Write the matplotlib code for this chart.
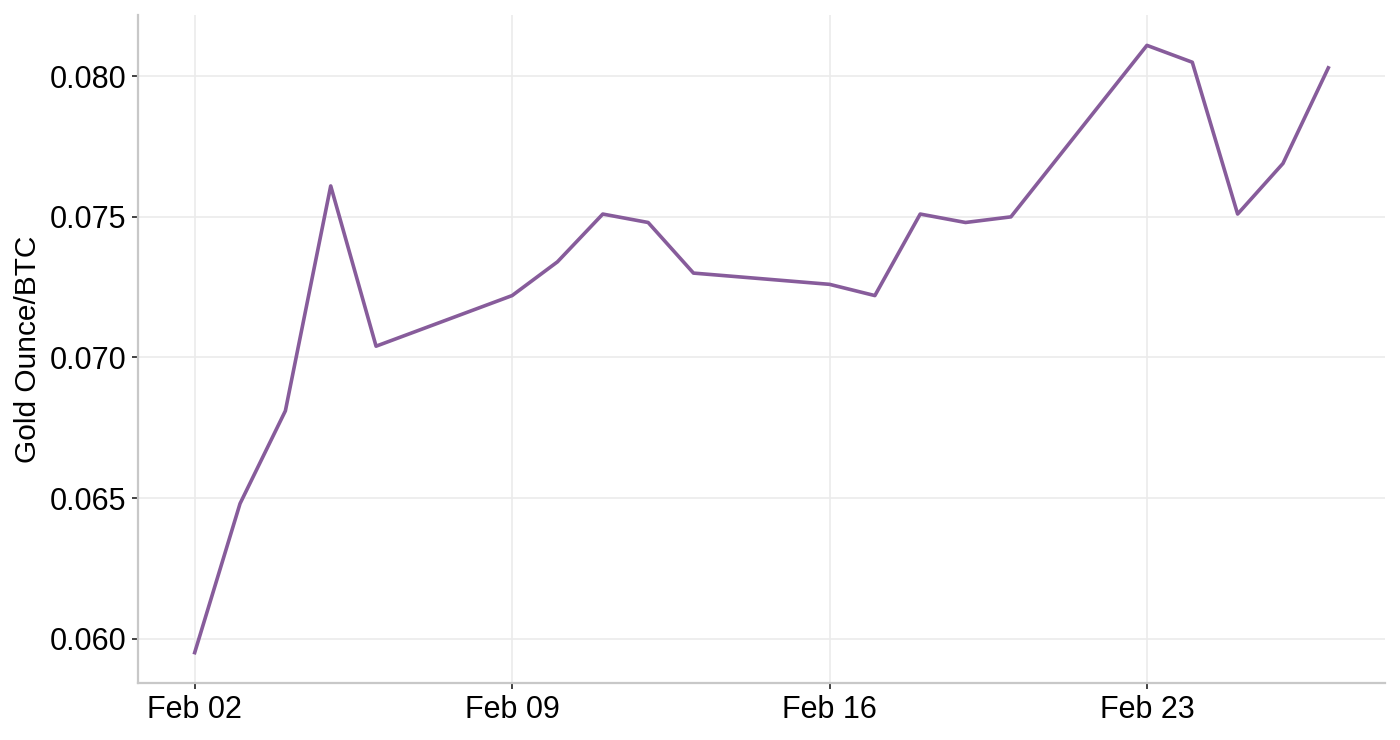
import numpy as np
import pandas as pd
import matplotlib
matplotlib.use("Agg")
import matplotlib.pyplot as plt
import matplotlib.dates as mdates
from matplotlib.ticker import MultipleLocator, FormatStrFormatter

plt.rcParams['font.family'] = ['Liberation Sans', 'DejaVu Sans']

dates = ["2021-02-02", "2021-02-03", "2021-02-04", "2021-02-05", "2021-02-06",
         "2021-02-09", "2021-02-10", "2021-02-11", "2021-02-12", "2021-02-13",
         "2021-02-16", "2021-02-17", "2021-02-18", "2021-02-19", "2021-02-20",
         "2021-02-23", "2021-02-24", "2021-02-25", "2021-02-26", "2021-02-27"]
ratio = [0.0595, 0.0648, 0.0681, 0.0761, 0.0704,
         0.0722, 0.0734, 0.0751, 0.0748, 0.0730,
         0.0726, 0.0722, 0.0751, 0.0748, 0.0750,
         0.0811, 0.0805, 0.0751, 0.0769, 0.0803]
tick_dates = ["2021-02-02", "2021-02-09", "2021-02-16", "2021-02-23"]

x = pd.to_datetime(dates)
y = np.array(ratio)

fig = plt.figure(figsize=(14, 7.4), dpi=100)
ax = fig.add_axes([138 / 1400, 1 - 683 / 740, (1385 - 138) / 1400, (683 - 15) / 740])

ax.plot(x, y, color="#875C9B", lw=2.6)

# ggplot style 5% expansion
span = x.max() - x.min()
ax.set_xlim(x.min() - span * 0.05, x.max() + span * 0.05)
yr = y.max() - y.min()
ax.set_ylim(y.min() - yr * 0.05, y.max() + yr * 0.05)

ax.set_xticks(pd.to_datetime(tick_dates))
ax.xaxis.set_major_formatter(mdates.DateFormatter("%b %d"))
ax.yaxis.set_major_locator(MultipleLocator(0.005))
ax.yaxis.set_major_formatter(FormatStrFormatter("%.3f"))

ax.grid(True, color="#EBEBEB", lw=1.2)
ax.set_axisbelow(True)
for s in ["top", "right"]:
    ax.spines[s].set_visible(False)
for s in ["left", "bottom"]:
    ax.spines[s].set_color("#C8C8C8")
    ax.spines[s].set_linewidth(1.6)

ax.tick_params(axis="both", length=4.5, width=1.3, color="#333333",
               labelsize=22, labelcolor="black", pad=4)
ax.set_ylabel("Gold Ounce/BTC", fontsize=21.5, labelpad=5)

fig.savefig("out.png", dpi=100, facecolor="white")
